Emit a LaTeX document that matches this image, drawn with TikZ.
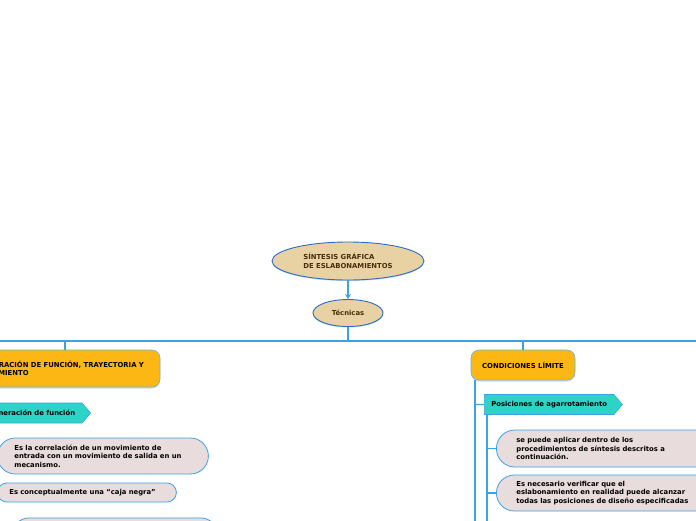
\documentclass[tikz,border=0pt]{standalone}
\usepackage{fontspec}
\setmainfont{DejaVu Sans}
\usetikzlibrary{shapes.geometric, shapes.symbols, arrows.meta, shadows}

\definecolor{tanfill}{HTML}{E8D2A3}
\definecolor{ovalblue}{HTML}{2E6CC7}
\definecolor{linkblue}{HTML}{3CA2E6}
\definecolor{orangefill}{HTML}{FDB714}
\definecolor{tealfill}{HTML}{2DD4C5}
\definecolor{pillfill}{HTML}{E8DCDC}
\definecolor{textbrown}{HTML}{4B2D0C}

\begin{document}
\begin{tikzpicture}[x=1pt, y=1pt,
            font=\fontsize{6.85}{8.5}\selectfont\bfseries,
            % Styles
            rootoval/.style={ellipse, draw=ovalblue, fill=tanfill, line width=0.9pt, text=textbrown, align=left, drop shadow={shadow xshift=0pt, shadow yshift=-1pt, fill=ovalblue!60, opacity=0.5}},
            topic/.style={rectangle, rounded corners=8pt, draw=linkblue!80, fill=orangefill, line width=0.6pt, align=left, drop shadow={shadow xshift=0pt, shadow yshift=-1.5pt, fill=black!30, opacity=0.5}},
            subtopic/.style={signal, signal to=east, signal pointer angle=100, draw=linkblue, fill=tealfill, line width=0.6pt, minimum height=20pt, inner xsep=7pt},
            pill/.style={rectangle, draw=linkblue, fill=pillfill, line width=0.8pt, align=left, inner ysep=0pt},
            link/.style={draw=linkblue, line width=1.4pt},
            arrowlink/.style={draw=linkblue, line width=1.2pt, -{Stealth[length=5pt, width=6pt]}}
        ]

        \useasboundingbox (0,0) rectangle (696,-520);
        \clip (0,0) rectangle (696,-520);
        \fill [white] (0,0) rectangle (696,-520);

        % Nodes
        \node [rootoval, minimum width=152pt, minimum height=38pt] (sintesis) at (348,-261) {SÍNTESIS GRÁFICA\\DE ESLABONAMIENTOS};
        \node [rootoval, minimum width=70pt, minimum height=27pt] (tecnicas) at (348,-313) {Técnicas};

        \coordinate (hub) at (348,-341);
        \coordinate (busL) at (-20,-341);
        \coordinate (busR) at (720,-341);
        \coordinate (dropL) at (65,-341);

        % Topics
        \node [topic, minimum width=198pt, minimum height=37pt] (generacion) at (61,-368.5) {GENERACIÓN DE FUNCIÓN, TRAYECTORIA Y\\MOVIMIENTO};
        \node [topic, minimum width=104pt, minimum height=30pt] (condiciones) at (523,-365) {CONDICIONES LÍMITE};

        % Subtopics
        \node [subtopic, anchor=west] (funcion) at (-19,-413) {Generación de función};
        \node [subtopic, anchor=west] (agarre) at (484,-404.5) {Posiciones de agarrotamiento};

        % Left notes
        \node [pill, rounded corners=18pt, minimum height=36pt, text width=177pt, inner xsep=17pt, anchor=west] (correlacion) at (-3,-456) {Es la correlación de un movimiento de\\entrada con un movimiento de salida en un\\mecanismo.};
        \node [pill, rounded corners=9.5pt, minimum height=19pt, text width=155pt, inner xsep=12pt, anchor=west] (cajanegra) at (-3,-492.5) {Es conceptualmente una “caja negra”};
        \node [pill, rounded corners=18pt, minimum height=36pt, minimum width=207pt, anchor=north west] (siguiente) at (11,-517.5) {};

        % Right notes
        \node [pill, rounded corners=18.5pt, minimum height=37pt, text width=200pt, inner xsep=20pt, anchor=west] (aplicar) at (496,-448.5) {se puede aplicar dentro de los\\procedimientos de síntesis descritos a\\continuación.};
        \node [pill, rounded corners=18pt, minimum height=36pt, text width=200pt, inner xsep=20pt, anchor=west] (verificar) at (496,-493) {Es necesario verificar que el\\eslabonamiento en realidad puede alcanzar\\todas las posiciones de diseño especificadas};

        % Edges
        \draw [arrowlink] (sintesis) -- (tecnicas);
        \draw [link] (tecnicas) -- (hub);
        \draw [link] (busL) -- (busR);
        \draw [link] (dropL) -- (dropL |- generacion.north);
        \draw [link] (hub -| condiciones.north) -- (condiciones);

        % Left branch
        \coordinate (trunkL) at (-30,-540);
        \coordinate (trunkF) at (-14,-540);
        \draw [link] (generacion.south -| trunkL) -- (trunkL);
        \draw [link] (trunkL |- funcion.west) -- (funcion);
        \draw [link] (funcion.south -| trunkF) -- (trunkF);
        \draw [link] (trunkF |- correlacion.west) -- (correlacion);
        \draw [link] (trunkF |- cajanegra.west) -- (cajanegra);
        \draw [link] (trunkF |- siguiente.west) -- (siguiente);

        % Right branch
        \coordinate (trunkR) at (475,-540);
        \coordinate (trunkA) at (487,-540);
        \draw [link] (condiciones.south -| trunkR) -- (trunkR);
        \draw [link] (trunkR |- agarre.west) -- (agarre);
        \draw [link] (agarre.south -| trunkA) -- (trunkA);
        \draw [link] (trunkA |- aplicar.west) -- (aplicar);
        \draw [link] (trunkA |- verificar.west) -- (verificar);

    \end{tikzpicture}
\end{document}
